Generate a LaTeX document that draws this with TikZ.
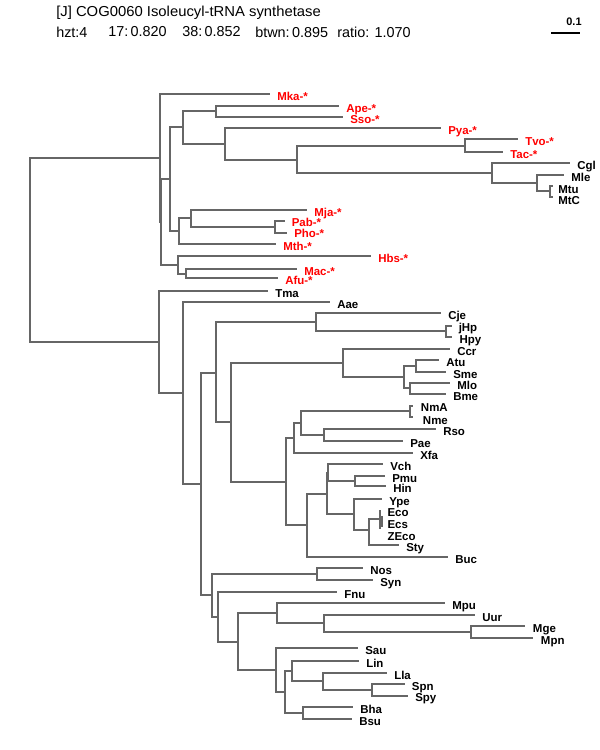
\documentclass[tikz,border=0pt]{standalone}
\usepackage{fontspec}
\newfontfamily\lsans{Liberation Sans}
\definecolor{linegray}{HTML}{666666}
\definecolor{archred}{HTML}{FF0000}
\tikzset{
  br/.style={draw=linegray, line width=1.5pt},
  lab/.style={anchor=base west, inner sep=0pt, font=\lsans\bfseries\fontsize{8.6}{10}\selectfont},
  arch/.style={lab, text=archred},
  bact/.style={lab, text=black},
  hdr/.style={anchor=west, inner sep=0pt, font=\lsans\fontsize{10.8}{13}\selectfont}
}
\newcommand\leaf[5]{\coordinate (#1) at (#2,#3); \path (#1) ++(7,6) node[#5] (t#1) {#4};}
\newcommand\leafat[7]{\coordinate (#1) at (#2,#3); \node[#5] (t#1) at (#6,#7) {#4};}
\begin{document}
\begin{tikzpicture}[x=0.75pt,y=-0.75pt]
\useasboundingbox (0,0) rectangle (600,750);
% header
\node[hdr] (title) at (56,13) {\scalebox{1.03}[1]{[J] COG0060 Isoleucyl-tRNA synthetase}};
\node[hdr] (h1) at (56,32) {hzt:4};
\node[hdr] (h2) at (108,32) {17:\,0.820};
\node[hdr] (h3) at (182,32) {38:\,0.852};
\node[hdr] (h4) at (255,32) {btwn:\,0.895};
\node[hdr] (h5) at (337,32) {ratio: 1.070};
\coordinate (sb1) at (551,33); \coordinate (sb2) at (580,33);
\draw[black, line width=0.8pt] (sb1) -- (sb2);
\node[inner sep=0pt, font=\lsans\bfseries\fontsize{8.2}{9}\selectfont] (sbl) at (574,22) {0.1};
% internal nodes
\coordinate (root) at (30,250);
\coordinate (A) at (160,158);
\coordinate (B) at (161,222);
\coordinate (C) at (170,179);
\coordinate (D) at (183,127);
\coordinate (E) at (216,111);
\coordinate (F) at (225,144);
\coordinate (G) at (297,160);
\coordinate (H) at (465,146);
\coordinate (I) at (492,173);
\coordinate (J) at (537,183);
\coordinate (K) at (550,191);
\coordinate (L) at (179,231);
\coordinate (M) at (191,218);
\coordinate (N) at (275,227);
\coordinate (O) at (178,265);
\coordinate (P) at (186,274);
\coordinate (Q) at (159,342);
\coordinate (R) at (183,393);
\coordinate (S) at (201,484);
\coordinate (T) at (216,373);
\coordinate (U) at (316,322);
\coordinate (V) at (446,331);
\coordinate (W) at (231,422);
\coordinate (X) at (343,363);
\coordinate (Y) at (404,377);
\coordinate (Z1) at (416,366);
\coordinate (Z2) at (410,388);
\coordinate (AA) at (286,482);
\coordinate (AB) at (294,438);
\coordinate (AC) at (301,423);
\coordinate (AD) at (410,411);
\coordinate (AE) at (324,435);
\coordinate (AF) at (307,525);
\coordinate (AG) at (327,494);
\coordinate (AH) at (328,473);
\coordinate (AI) at (355,481);
\coordinate (AJ) at (354,514);
\coordinate (AK) at (369,530);
\coordinate (AL) at (380,519);
\coordinate (AM) at (212,595);
\coordinate (AN) at (317,574);
\coordinate (AO) at (218,617);
\coordinate (AP) at (238,642);
\coordinate (AQ) at (277,613);
\coordinate (AR) at (324,623);
\coordinate (AS) at (471,632);
\coordinate (AT) at (276,670);
\coordinate (AU) at (285,692);
\coordinate (AV) at (292,671);
\coordinate (AW) at (323,681);
\coordinate (AX) at (372,690);
\coordinate (AY) at (303,713);
% leaves: archaea
\leaf{Mka}{270}{94}{Mka-*}{arch}
\leaf{Ape}{339}{106}{Ape-*}{arch}
\leaf{Sso}{343}{117}{Sso-*}{arch}
\leaf{Pya}{441}{128}{Pya-*}{arch}
\leaf{Tvo}{518}{139}{Tvo-*}{arch}
\leaf{Tac}{503}{152}{Tac-*}{arch}
\leaf{Cgl}{570}{163}{Cgl}{bact}
\leaf{Mle}{564}{175}{Mle}{bact}
\leafat{Mtu}{553}{186}{Mtu}{bact}{558}{193.3}
\leafat{MtC}{553}{197}{MtC}{bact}{558}{204}
\leaf{Mja}{307}{210}{Mja-*}{arch}
\leafat{Pab}{285}{221}{Pab-*}{arch}{291.5}{226.7}
\leafat{Pho}{287}{233}{Pho-*}{arch}{294}{237.5}
\leaf{Mth}{276}{244}{Mth-*}{arch}
\leaf{Hbs}{371}{256}{Hbs-*}{arch}
\leaf{Mac}{297}{269}{Mac-*}{arch}
\leaf{Afu}{278}{278}{Afu-*}{arch}
% leaves: bacteria
\leaf{Tma}{268}{291}{Tma}{bact}
\leaf{Aae}{330}{302}{Aae}{bact}
\leaf{Cje}{441}{313}{Cje}{bact}
\leafat{jHp}{452}{326}{jHp}{bact}{458.5}{331.3}
\leafat{Hpy}{452}{337}{Hpy}{bact}{459.3}{343}
\leaf{Ccr}{450}{349}{Ccr}{bact}
\leaf{Atu}{439}{360}{Atu}{bact}
\leaf{Sme}{446}{372}{Sme}{bact}
\leaf{Mlo}{450}{383}{Mlo}{bact}
\leaf{Bme}{446}{394}{Bme}{bact}
\leafat{NmA}{413}{406}{NmA}{bact}{420.7}{411.7}
\leafat{Nme}{413}{417}{Nme}{bact}{422.7}{424}
\leaf{Rso}{436}{429}{Rso}{bact}
\leaf{Pae}{403}{441}{Pae}{bact}
\leaf{Xfa}{413}{453}{Xfa}{bact}
\leaf{Vch}{383}{464}{Vch}{bact}
\leaf{Pmu}{385}{476}{Pmu}{bact}
\leaf{Hin}{386}{486}{Hin}{bact}
\leaf{Ype}{382}{499}{Ype}{bact}
\leafat{Eco}{381}{511}{Eco}{bact}{387.3}{516.7}
\coordinate (EcsA) at (382,516);
\leafat{Ecs}{382}{527}{Ecs}{bact}{387.3}{528.3}
\leafat{ZEco}{381}{528}{ZEco}{bact}{387.3}{540.7}
\leaf{Sty}{399}{545}{Sty}{bact}
\leaf{Buc}{448}{557}{Buc}{bact}
\leaf{Nos}{363}{568}{Nos}{bact}
\leaf{Syn}{373}{580}{Syn}{bact}
\leaf{Fnu}{337}{592}{Fnu}{bact}
\leaf{Mpu}{445}{603}{Mpu}{bact}
\leaf{Uur}{475}{615}{Uur}{bact}
\leafat{Mge}{525}{626}{Mge}{bact}{532.7}{632.3}
\leafat{Mpn}{533}{638}{Mpn}{bact}{540.7}{644}
\leaf{Sau}{358}{648}{Sau}{bact}
\leaf{Lin}{359}{661}{Lin}{bact}
\leaf{Lla}{387}{673}{Lla}{bact}
\leafat{Spn}{405}{684}{Spn}{bact}{411.7}{690}
\leafat{Spy}{408}{696}{Spy}{bact}{415}{701.3}
\leaf{Bha}{353}{707}{Bha}{bact}
\leaf{Bsu}{352}{719}{Bsu}{bact}
% edges
\draw[br] (root) |- (A);  \draw[br] (root) |- (Q);
\draw[br] (A) |- (Mka);   \draw[br] (A) |- (B);
\draw[br] (B) |- (C);     \draw[br] (B) |- (O);
\draw[br] (C) |- (D);     \draw[br] (C) |- (L);
\draw[br] (D) |- (E);     \draw[br] (D) |- (F);
\draw[br] (E) |- (Ape);   \draw[br] (E) |- (Sso);
\draw[br] (F) |- (Pya);   \draw[br] (F) |- (G);
\draw[br] (G) |- (H);     \draw[br] (G) |- (I);
\draw[br] (H) |- (Tvo);   \draw[br] (H) |- (Tac);
\draw[br] (I) |- (Cgl);   \draw[br] (I) |- (J);
\draw[br] (J) |- (Mle);   \draw[br] (J) |- (K);
\draw[br] (K) |- (Mtu);   \draw[br] (K) |- (MtC);
\draw[br] (L) |- (M);     \draw[br] (L) |- (Mth);
\draw[br] (M) |- (Mja);   \draw[br] (M) |- (N);
\draw[br] (N) |- (Pab);   \draw[br] (N) |- (Pho);
\draw[br] (O) |- (Hbs);   \draw[br] (O) |- (P);
\draw[br] (P) |- (Mac);   \draw[br] (P) |- (Afu);
\draw[br] (Q) |- (Tma);   \draw[br] (Q) |- (R);
\draw[br] (R) |- (Aae);   \draw[br] (R) |- (S);
\draw[br] (S) |- (T);     \draw[br] (S) |- (AM);
\draw[br] (T) |- (U);     \draw[br] (T) |- (W);
\draw[br] (U) |- (Cje);   \draw[br] (U) |- (V);
\draw[br] (V) |- (jHp);   \draw[br] (V) |- (Hpy);
\draw[br] (W) |- (X);     \draw[br] (W) |- (AA);
\draw[br] (X) |- (Ccr);   \draw[br] (X) |- (Y);
\draw[br] (Y) |- (Z1);    \draw[br] (Y) |- (Z2);
\draw[br] (Z1) |- (Atu);  \draw[br] (Z1) |- (Sme);
\draw[br] (Z2) |- (Mlo);  \draw[br] (Z2) |- (Bme);
\draw[br] (AA) |- (AB);   \draw[br] (AA) |- (AF);
\draw[br] (AB) |- (AC);   \draw[br] (AB) |- (Xfa);
\draw[br] (AC) |- (AD);   \draw[br] (AC) |- (AE);
\draw[br] (AD) |- (NmA);  \draw[br] (AD) |- (Nme);
\draw[br] (AE) |- (Rso);  \draw[br] (AE) |- (Pae);
\draw[br] (AF) |- (AG);   \draw[br] (AF) |- (Buc);
\draw[br] (AG) |- (AH);   \draw[br] (AG) |- (AJ);
\draw[br] (AH) |- (Vch);  \draw[br] (AH) |- (AI);
\draw[br] (AI) |- (Pmu);  \draw[br] (AI) |- (Hin);
\draw[br] (AJ) |- (Ype);  \draw[br] (AJ) |- (AK);
\draw[br] (AK) |- (AL);   \draw[br] (AK) |- (Sty);
\draw[br] (AL) |- (Eco);  \draw[br] (AL) |- (ZEco);
\draw[br] (EcsA) -- (Ecs);
\draw[br] (AM) |- (AN);   \draw[br] (AM) |- (AO);
\draw[br] (AN) |- (Nos);  \draw[br] (AN) |- (Syn);
\draw[br] (AO) |- (Fnu);  \draw[br] (AO) |- (AP);
\draw[br] (AP) |- (AQ);   \draw[br] (AP) |- (AT);
\draw[br] (AQ) |- (Mpu);  \draw[br] (AQ) |- (AR);
\draw[br] (AR) |- (Uur);  \draw[br] (AR) |- (AS);
\draw[br] (AS) |- (Mge);  \draw[br] (AS) |- (Mpn);
\draw[br] (AT) |- (Sau);  \draw[br] (AT) |- (AU);
\draw[br] (AU) |- (AV);   \draw[br] (AU) |- (AY);
\draw[br] (AV) |- (Lin);  \draw[br] (AV) |- (AW);
\draw[br] (AW) |- (Lla);  \draw[br] (AW) |- (AX);
\draw[br] (AX) |- (Spn);  \draw[br] (AX) |- (Spy);
\draw[br] (AY) |- (Bha);  \draw[br] (AY) |- (Bsu);
\end{tikzpicture}
\end{document}
